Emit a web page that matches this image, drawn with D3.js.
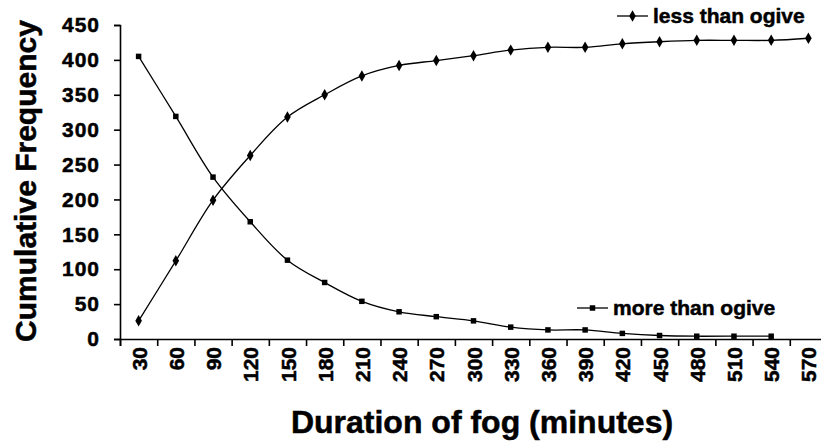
<!DOCTYPE html>
<html>
<head>
<meta charset="utf-8">
<script src="https://cdn.jsdelivr.net/npm/d3@7"></script>
<style>
  html, body { margin: 0; padding: 0; background: #fff; }
  svg { display: block; }
  text { font-family: "Liberation Sans", Arial, sans-serif; font-weight: bold; fill: #000; stroke: #000; stroke-width: 0.5px; }
</style>
</head>
<body>
<svg id="chart" width="821" height="445"></svg>
<script>
/* ── DATA ───────────────────────────────────────── */
const durations  = [30, 60, 90, 120, 150, 180, 210, 240, 270, 300, 330, 360, 390, 420, 450, 480, 510, 540, 570];
const lessThan   = [26, 112, 199, 263, 318, 350, 377, 392, 399, 406, 414, 418, 418, 423, 426, 428, 428, 428, 431];
const moreThan   = [405, 319, 232, 168, 113, 81, 54, 39, 32, 26, 17, 13, 13, 8, 5, 4, 4, 4, null];
const yTicks     = [0, 50, 100, 150, 200, 250, 300, 350, 400, 450];
const xBounds    = [15, 45, 75, 105, 135, 165, 195, 225, 255, 285, 315, 345, 375, 405, 435, 465, 495, 525, 555, 585];

/* ── SCALES ─────────────────────────────────────── */
const svg = d3.select('#chart');
const x = d3.scaleLinear().domain([15, 585]).range([120, 827]);
const y = d3.scaleLinear().domain([0, 450]).range([339, 25]);

/* ── AXES ───────────────────────────────────────── */
const yAxis = svg.append('g').attr('transform', 'translate(120,0)')
  .call(d3.axisLeft(y).tickValues(yTicks).tickSize(6).tickPadding(14));
yAxis.selectAll('text').style('font-size', '21px').style('letter-spacing', '1px');

const xAxis = svg.append('g').attr('transform', 'translate(0,339)')
  .call(d3.axisBottom(x).tickValues(xBounds).tickSize(7).tickFormat(''));

svg.append('g').attr('transform', 'translate(0,339)')
  .call(d3.axisBottom(x).tickValues(durations).tickSize(0).tickFormat(d3.format('d')))
  .call(g => g.select('.domain').remove())
  .selectAll('text')
  .attr('transform', 'rotate(-90)')
  .attr('text-anchor', 'end')
  .attr('x', -8).attr('y', 0).attr('dy', '0.36em')
  .style('font-size', '21px');

svg.selectAll('.domain, .tick line').attr('stroke', '#000').attr('stroke-width', 1.6);

/* ── TITLES ─────────────────────────────────────── */
svg.append('text').attr('transform', 'translate(36,181) rotate(-90)')
  .attr('text-anchor', 'middle').style('font-size', '30px').text('Cumulative Frequency');
svg.append('text').attr('x', 482).attr('y', 433)
  .attr('text-anchor', 'middle').style('font-size', '32px').text('Duration of fog (minutes)');

/* ── LINES ──────────────────────────────────────── */
const line = d3.line()
  .defined(d => d[1] != null)
  .x(d => x(d[0])).y(d => y(d[1]))
  .curve(d3.curveCatmullRom.alpha(0.5));

const lessPts = durations.map((d, i) => [d, lessThan[i]]);
const morePts = durations.map((d, i) => [d, moreThan[i]]).filter(d => d[1] != null);

svg.append('path').datum(lessPts).attr('d', line)
  .attr('fill', 'none').attr('stroke', '#000').attr('stroke-width', 1.3);
svg.append('path').datum(morePts).attr('d', line)
  .attr('fill', 'none').attr('stroke', '#000').attr('stroke-width', 1.3);

const diamond = d3.symbol().type(d3.symbolDiamond).size(38);
const square  = d3.symbol().type(d3.symbolSquare).size(30);

svg.selectAll('.m-less').data(lessPts).enter().append('path')
  .attr('class', 'm-less').attr('d', diamond)
  .attr('transform', d => 'translate(' + x(d[0]) + ',' + y(d[1]) + ')');
svg.selectAll('.m-more').data(morePts).enter().append('path')
  .attr('class', 'm-more').attr('d', square)
  .attr('transform', d => 'translate(' + x(d[0]) + ',' + y(d[1]) + ')');

/* ── LEGEND ─────────────────────────────────────── */
function legendItem(x0, y0, sym, label) {
  svg.append('line').attr('x1', x0).attr('x2', x0 + 31).attr('y1', y0).attr('y2', y0)
    .attr('stroke', '#000').attr('stroke-width', 1.3);
  svg.append('path').attr('d', sym).attr('transform', 'translate(' + (x0 + 15.5) + ',' + y0 + ')');
  svg.append('text').attr('x', x0 + 36).attr('y', y0 + 7).style('font-size', '21px').text(label);
}
legendItem(617, 16, diamond, 'less than ogive');
legendItem(577, 308, square, 'more than ogive');
</script>
</body>
</html>
